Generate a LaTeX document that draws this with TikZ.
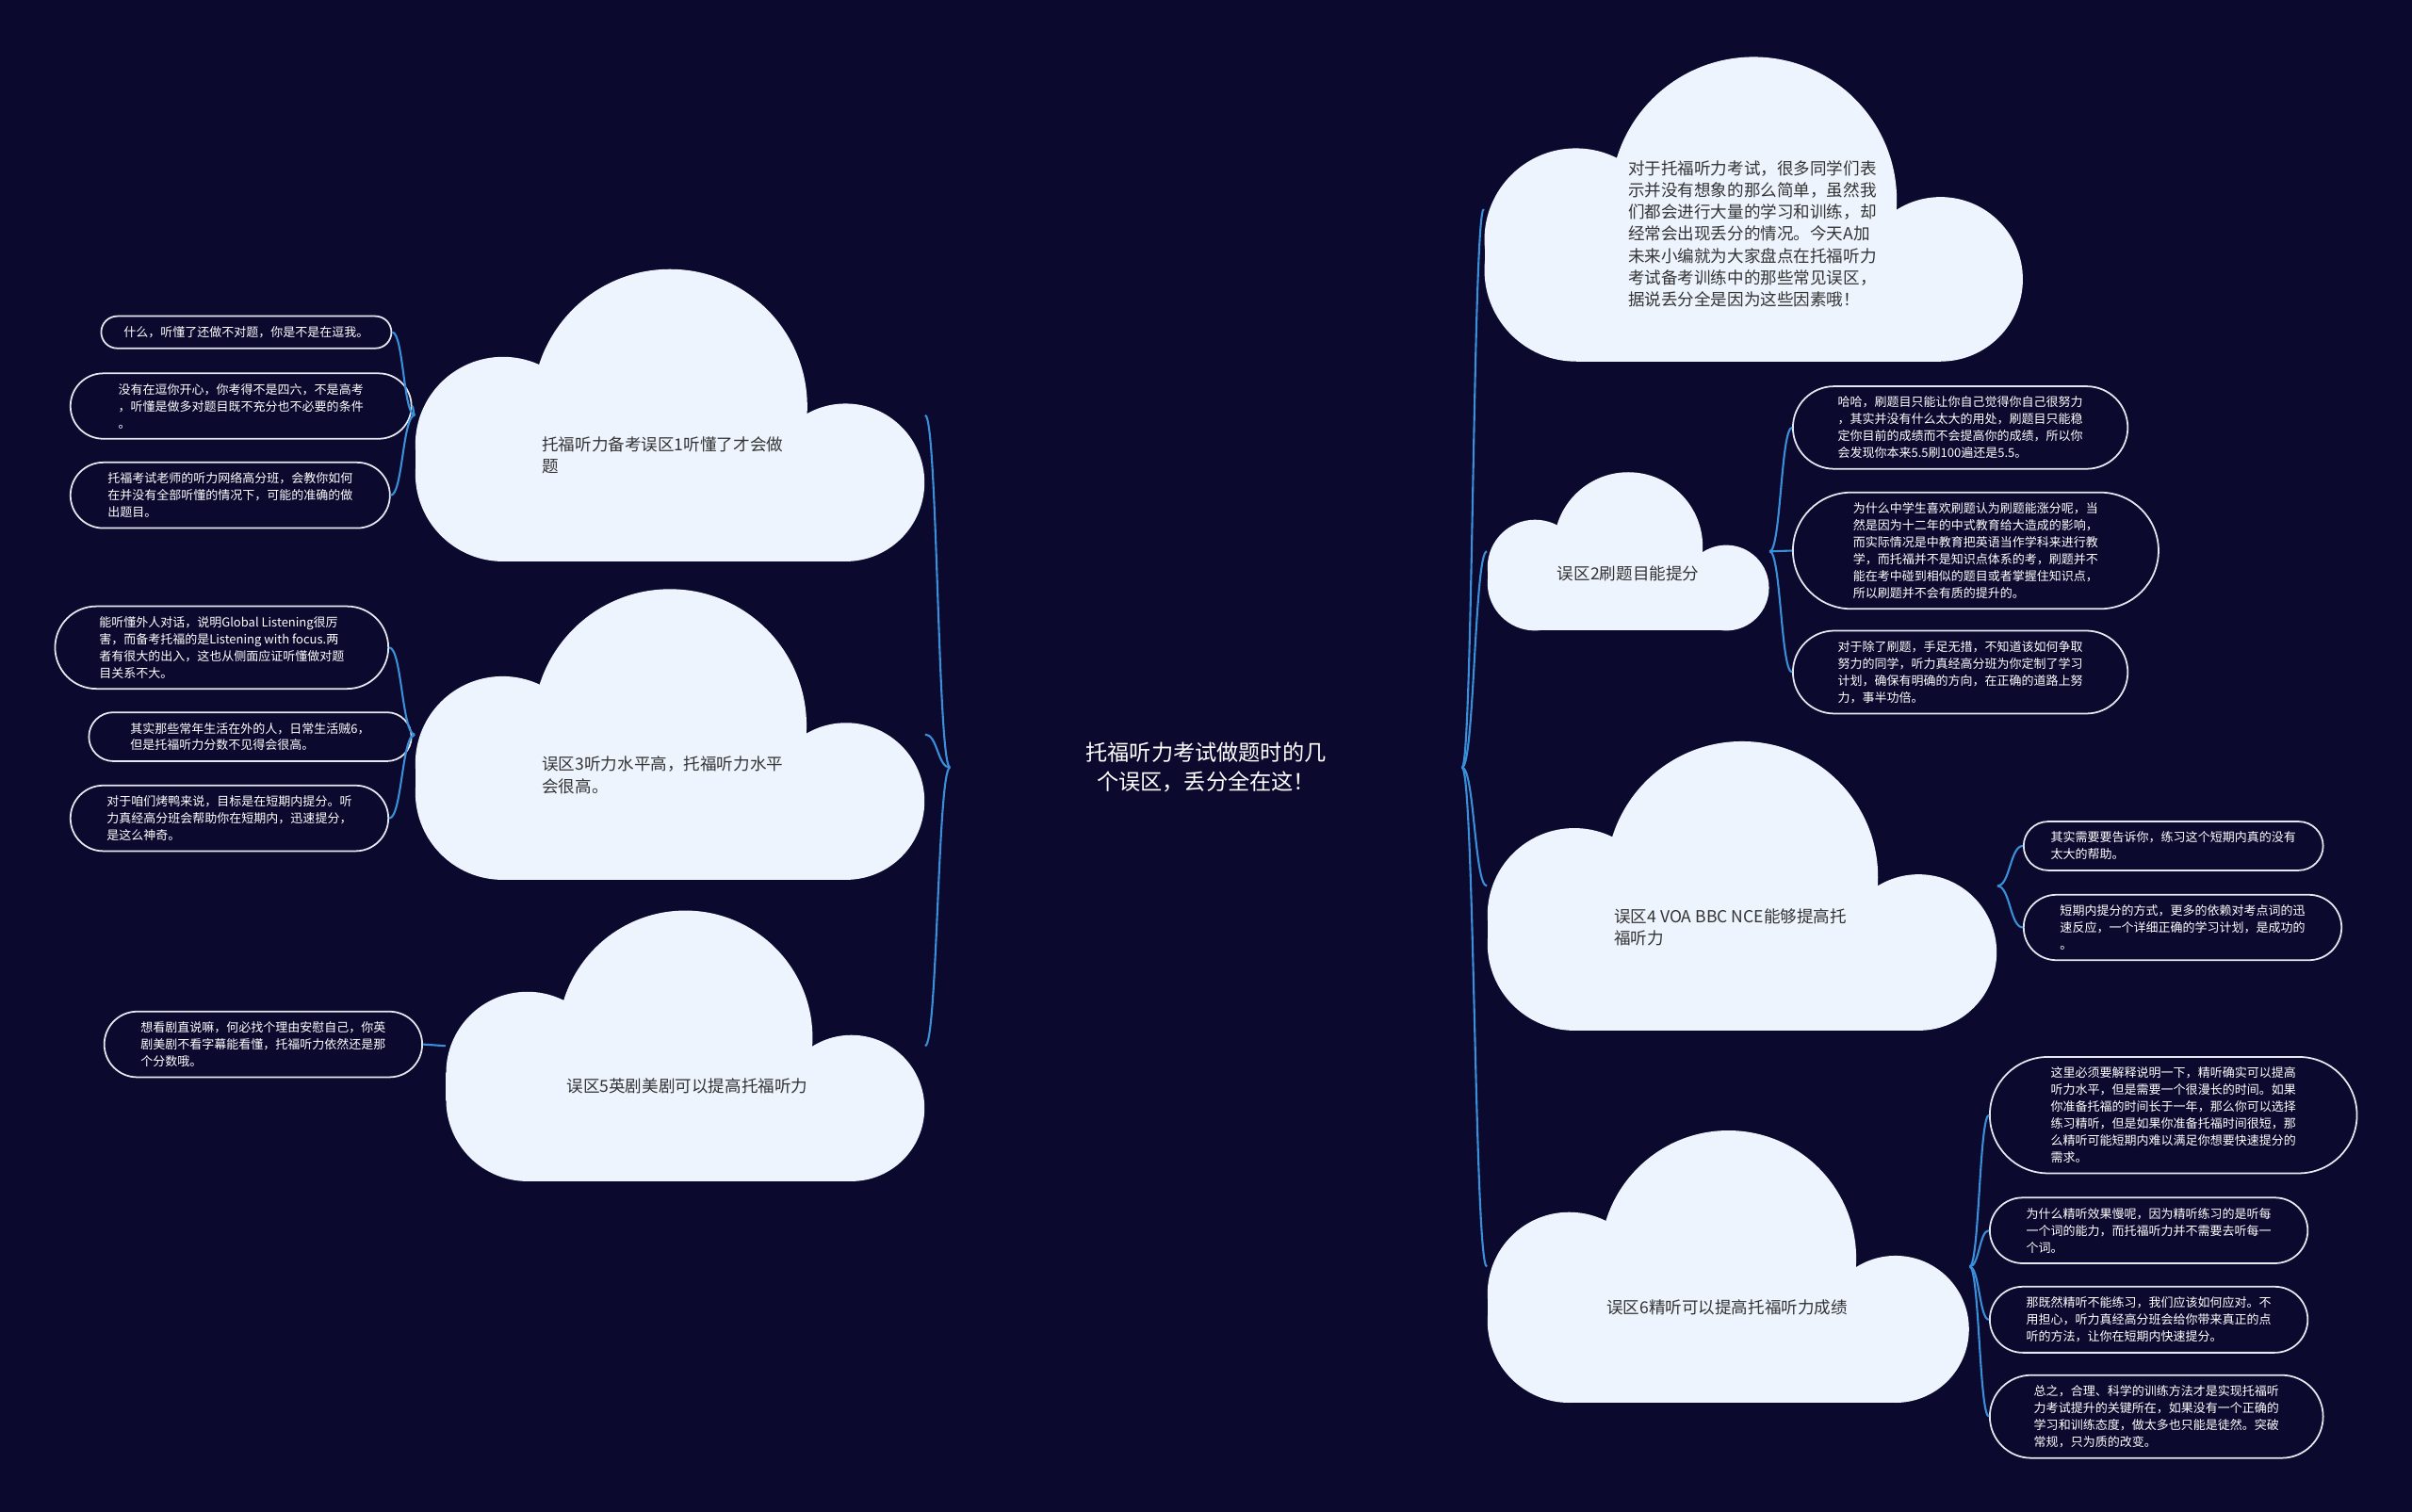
\documentclass[tikz,border=0pt]{standalone}
\usepackage{fontspec}
\setmainfont{Noto Sans CJK SC}
\usetikzlibrary{shapes.misc,calc}

\definecolor{bgnavy}{HTML}{0B0A2E}
\definecolor{cloudwhite}{HTML}{EEF4FE}
\definecolor{linkblue}{HTML}{3A8FD8}
\definecolor{cloudtext}{HTML}{333333}
\definecolor{leafline}{HTML}{E6E8F0}

\newcommand{\unitpx}{0.016327cm}
% cloud: #1 name, #2 left, #3 top, #4 width, #5 height
\newcommand{\cloudshape}[5]{%
  \begin{scope}[shift={(#2,#3)}]
    \fill[cloudwhite] (0.5*#4,0.47*#5) circle[radius=0.47*#5];
    \fill[cloudwhite] (0.3*#5,0.6*#5) circle[radius=0.3*#5];
    \fill[cloudwhite] (0.3*#5,0.7*#5) circle[radius=0.3*#5];
    \fill[cloudwhite] (0,0.6*#5) rectangle (0.6*#5,0.7*#5);
    \fill[cloudwhite] (#4-0.27*#5,0.73*#5) circle[radius=0.27*#5];
    \fill[cloudwhite] (0.3*#5,0.6*#5) rectangle (#4-0.27*#5,#5);
    \node[inner sep=0pt, minimum width={#4*\unitpx}, minimum height={#5*\unitpx}] (#1) at (0.5*#4,0.5*#5) {};
  \end{scope}}

\begin{document}
\begin{tikzpicture}[x=0.016327cm, y=-0.016327cm,
    leaf/.style={rounded rectangle, draw=leafline, line width=0.5pt, fill=bgnavy, text=white,
      align=left, inner xsep=2.4pt, inner ysep=3.1pt, font=\fontsize{3.7}{5.1}\selectfont,
      minimum width={(#1+10)*\unitpx}},
    cloudlabel/.style={text=cloudtext, align=left, inner sep=0pt, anchor=west,
      font=\fontsize{5}{6.6}\selectfont},
    link/.style={draw=linkblue, line width=0.6pt},
    brace/.style={to path={let \p1=(\tikztostart), \p2=(\tikztotarget) in
      .. controls ({(\x1+\x2)/2},\y1) and ({(\x1+\x2)/2},\y2) .. (\tikztotarget)}},
    root/.style={text=white, align=center, inner sep=0pt, minimum width={332*\unitpx},
      font=\fontsize{6.6}{8.8}\selectfont}]
  \fill[bgnavy] (0,0) rectangle (1568,983);
  \useasboundingbox (0,0) rectangle (1568,983);

  % clouds
  \cloudshape{intro}{965}{37}{350}{198}
  \cloudshape{wq1}{270}{175}{331}{190}
  \cloudshape{wq3}{270}{383}{331}{189}
  \cloudshape{wq5}{290}{592}{311}{176}
  \cloudshape{wq2}{967}{307}{183}{103}
  \cloudshape{wq4}{967}{482}{331}{188}
  \cloudshape{wq6}{967}{735}{313}{177}

  \node[root] (root) at (784,499) {托福听力考试做题时的几\\个误区，丢分全在这！};

  \node[cloudlabel] (introtext) at (1058,152) {对于托福听力考试，很多同学们表\\示并没有想象的那么简单，虽然我\\们都会进行大量的学习和训练，却\\经常会出现丢分的情况。今天A加\\未来小编就为大家盘点在托福听力\\考试备考训练中的那些常见误区，\\据说丢分全是因为这些因素哦！};
  \node[cloudlabel] (wq1text) at (352,296) {托福听力备考误区1听懂了才会做\\题};
  \node[cloudlabel] (wq3text) at (352,504) {误区3听力水平高，托福听力水平\\会很高。};
  \node[cloudlabel] (wq5text) at (368,706) {误区5英剧美剧可以提高托福听力};
  \node[cloudlabel] (wq2text) at (1012,373) {误区2刷题目能提分};
  \node[cloudlabel] (wq4text) at (1049,603) {误区4 VOA BBC NCE能够提高托\\福听力};
  \node[cloudlabel] (wq6text) at (1044,850) {误区6精听可以提高托福听力成绩};

  % left leaves
  \node[leaf=189, anchor=east] (l1a) at (255,216) {什么，听懂了还做不对题，你是不是在逗我。};
  \node[leaf=222, anchor=east] (l1b) at (268,264) {没有在逗你开心，你考得不是四六，不是高考\\，听懂是做多对题目既不充分也不必要的条件\\。};
  \node[leaf=208, anchor=east] (l1c) at (254,322) {托福考试老师的听力网络高分班，会教你如何\\在并没有全部听懂的情况下，可能的准确的做\\出题目。};
  \node[leaf=217, anchor=east] (l3a) at (253,421) {能听懂外人对话，说明Global Listening很厉\\害，而备考托福的是Listening with focus.两\\者有很大的出入，这也从侧面应证听懂做对题\\目关系不大。};
  \node[leaf=210, anchor=east] (l3b) at (268,479) {其实那些常年生活在外的人，日常生活贼6，\\但是托福听力分数不见得会很高。};
  \node[leaf=207, anchor=east] (l3c) at (253,532) {对于咱们烤鸭来说，目标是在短期内提分。听\\力真经高分班会帮助你在短期内，迅速提分，\\是这么神奇。};
  \node[leaf=207, anchor=east] (l5a) at (275,679) {想看剧直说嘛，何必找个理由安慰自己，你英\\剧美剧不看字幕能看懂，托福听力依然还是那\\个分数哦。};

  % right leaves
  \node[leaf=218, anchor=west] (r2a) at (1165,278) {哈哈，刷题目只能让你自己觉得你自己很努力\\，其实并没有什么太大的用处，刷题目只能稳\\定你目前的成绩而不会提高你的成绩，所以你\\会发现你本来5.5刷100遍还是5.5。};
  \node[leaf=238, anchor=west] (r2b) at (1165,358) {为什么中学生喜欢刷题认为刷题能涨分呢，当\\然是因为十二年的中式教育给大造成的影响，\\而实际情况是中教育把英语当作学科来进行教\\学，而托福并不是知识点体系的考，刷题并不\\能在考中碰到相似的题目或者掌握住知识点，\\所以刷题并不会有质的提升的。};
  \node[leaf=218, anchor=west] (r2c) at (1165,437) {对于除了刷题，手足无措，不知道该如何争取\\努力的同学，听力真经高分班为你定制了学习\\计划，确保有明确的方向，在正确的道路上努\\力，事半功倍。};
  \node[leaf=195, anchor=west] (r4a) at (1315,550) {其实需要要告诉你，练习这个短期内真的没有\\太大的帮助。};
  \node[leaf=207, anchor=west] (r4b) at (1315,603) {短期内提分的方式，更多的依赖对考点词的迅\\速反应，一个详细正确的学习计划，是成功的\\。};
  \node[leaf=239, anchor=west] (r6a) at (1293,725) {这里必须要解释说明一下，精听确实可以提高\\听力水平，但是需要一个很漫长的时间。如果\\你准备托福的时间长于一年，那么你可以选择\\练习精听，但是如果你准备托福时间很短，那\\么精听可能短期内难以满足你想要快速提分的\\需求。};
  \node[leaf=207, anchor=west] (r6b) at (1293,800) {为什么精听效果慢呢，因为精听练习的是听每\\一个词的能力，而托福听力并不需要去听每一\\个词。};
  \node[leaf=207, anchor=west] (r6c) at (1293,858) {那既然精听不能练习，我们应该如何应对。不\\用担心，听力真经高分班会给你带来真正的点\\听的方法，让你在短期内快速提分。};
  \node[leaf=217, anchor=west] (r6d) at (1293,921) {总之，合理、科学的训练方法才是实现托福听\\力考试提升的关键所在，如果没有一个正确的\\学习和训练态度，做太多也只能是徒然。突破\\常规，只为质的改变。};

  % connectors
  \foreach \c in {wq1,wq3,wq5}
    \draw[link] (root.west) to[brace] (\c.east);
  \foreach \c in {intro,wq2,wq4,wq6}
    \draw[link] (root.east) to[brace] (\c.west);
  \foreach \l in {l1a,l1b,l1c}
    \draw[link] (wq1.west) to[brace] (\l.east);
  \foreach \l in {l3a,l3b,l3c}
    \draw[link] (wq3.west) to[brace] (\l.east);
  \draw[link] (wq5.west) -- (l5a.east);
  \foreach \l in {r2a,r2b,r2c}
    \draw[link] (wq2.east) to[brace] (\l.west);
  \foreach \l in {r4a,r4b}
    \draw[link] (wq4.east) to[brace] (\l.west);
  \foreach \l in {r6a,r6b,r6c,r6d}
    \draw[link] (wq6.east) to[brace] (\l.west);
\end{tikzpicture}
\end{document}
